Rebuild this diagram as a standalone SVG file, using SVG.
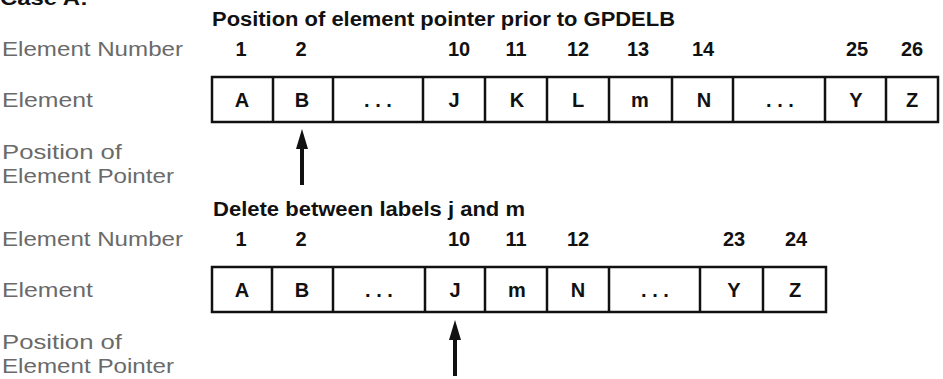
<svg xmlns="http://www.w3.org/2000/svg" width="943" height="379" viewBox="0 0 943 379">
<style>
.lbl{font-family:"Liberation Sans",Arial,sans-serif;font-size:21px;fill:#6a6a6a;}
.ttl{font-family:"Liberation Sans",Arial,sans-serif;font-size:20px;font-weight:bold;fill:#111;}
.num{font-family:"Liberation Sans",Arial,sans-serif;font-size:20px;font-weight:bold;fill:#111;text-anchor:middle;}
.cell{fill:#fff;stroke:#111;stroke-width:2.5;}
.sep{stroke:#111;stroke-width:2.5;}
.let{font-family:"Liberation Sans",Arial,sans-serif;font-size:20px;font-weight:bold;fill:#111;text-anchor:middle;}
.shaft{stroke:#111;stroke-width:4;fill:none;}
.head{fill:#111;}
</style>
<rect width="943" height="379" fill="#fff"/>
<text class="ttl" x="0" y="5" textLength="88" lengthAdjust="spacingAndGlyphs">Case A:</text>

<g id="caseA-before">
<text class="ttl" x="212" y="26" textLength="463" lengthAdjust="spacingAndGlyphs">Position of element pointer prior to GPDELB</text>
<text class="lbl" x="2" y="56" textLength="181" lengthAdjust="spacingAndGlyphs">Element Number</text>
<text class="lbl" x="2" y="107" textLength="91" lengthAdjust="spacingAndGlyphs">Element</text>
<text class="lbl" x="2" y="159" textLength="120" lengthAdjust="spacingAndGlyphs">Position of</text>
<text class="lbl" x="2" y="183" textLength="172" lengthAdjust="spacingAndGlyphs">Element Pointer</text>
<g id="nums1">
<text class="num" x="241" y="56">1</text>
<text class="num" x="301" y="56">2</text>
<text class="num" x="459" y="56">10</text>
<text class="num" x="516" y="56">11</text>
<text class="num" x="578" y="56">12</text>
<text class="num" x="638" y="56">13</text>
<text class="num" x="703" y="56">14</text>
<text class="num" x="857" y="56">25</text>
<text class="num" x="912" y="56">26</text>
</g>
<g id="array1">
<rect class="cell" x="212" y="77" width="726" height="45"/>
<path class="sep" d="M273,77V122M333,77V122M423,77V122M485,77V122M547,77V122M609,77V122M672,77V122M733,77V122M825,77V122M886,77V122"/>
<text class="let" x="242" y="107">A</text>
<text class="let" x="302" y="107">B</text>
<text class="let" x="378" y="107">. . .</text>
<text class="let" x="454" y="107">J</text>
<text class="let" x="517" y="107">K</text>
<text class="let" x="578" y="107">L</text>
<text class="let" x="640" y="107">m</text>
<text class="let" x="704" y="107">N</text>
<text class="let" x="780" y="107">. . .</text>
<text class="let" x="856" y="107">Y</text>
<text class="let" x="912" y="107">Z</text>
</g>
</g>

<g id="caseA-after">
<text class="ttl" x="213" y="216" textLength="312" lengthAdjust="spacingAndGlyphs">Delete between labels j and m</text>
<text class="lbl" x="2" y="246" textLength="181" lengthAdjust="spacingAndGlyphs">Element Number</text>
<text class="lbl" x="2" y="297" textLength="91" lengthAdjust="spacingAndGlyphs">Element</text>
<text class="lbl" x="2" y="349" textLength="120" lengthAdjust="spacingAndGlyphs">Position of</text>
<text class="lbl" x="2" y="373" textLength="172" lengthAdjust="spacingAndGlyphs">Element Pointer</text>
<g id="nums2">
<text class="num" x="241" y="246">1</text>
<text class="num" x="301" y="246">2</text>
<text class="num" x="459" y="246">10</text>
<text class="num" x="516" y="246">11</text>
<text class="num" x="578" y="246">12</text>
<text class="num" x="734" y="246">23</text>
<text class="num" x="796" y="246">24</text>
</g>
<g id="array2">
<rect class="cell" x="212" y="267" width="614" height="45"/>
<path class="sep" d="M272,267V312M333,267V312M425,267V312M485,267V312M547,267V312M609,267V312M700,267V312M763,267V312"/>
<text class="let" x="242" y="297">A</text>
<text class="let" x="302" y="297">B</text>
<text class="let" x="379" y="297">. . .</text>
<text class="let" x="455" y="297">J</text>
<text class="let" x="517" y="297">m</text>
<text class="let" x="578" y="297">N</text>
<text class="let" x="655" y="297">. . .</text>
<text class="let" x="734" y="297">Y</text>
<text class="let" x="795" y="297">Z</text>
</g>
</g>

<g id="connectors">
<path class="shaft" d="M302,185V146"/>
<path class="head" d="M302,129L308,149L296,149Z"/>
<path class="shaft" d="M455,376V337"/>
<path class="head" d="M455,320L461,340L449,340Z"/>
</g>
</svg>
